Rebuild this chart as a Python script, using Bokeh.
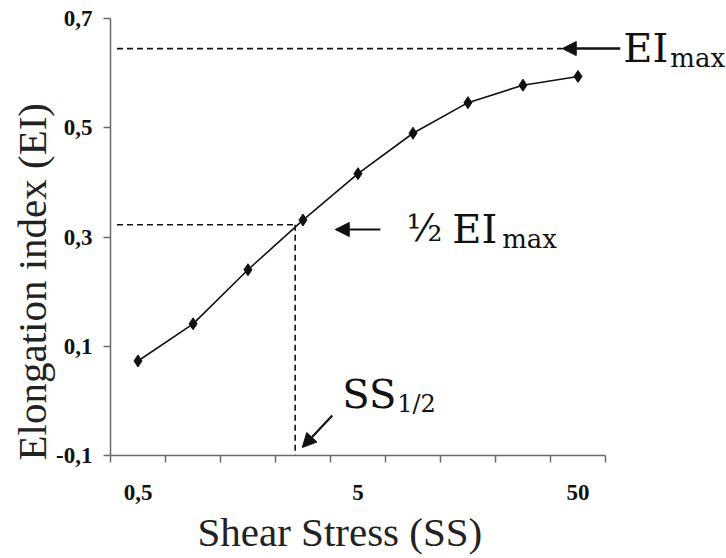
import math

from bokeh.embed import file_html
from bokeh.models import (Arrow, ColumnDataSource, CustomJSTickFormatter,
                          FixedTicker, Label, NormalHead, Range1d, Title)
from bokeh.plotting import figure
from bokeh.resources import INLINE

# Deformability curve: elongation index versus applied shear stress
shear_stress = [0.5, 0.89, 1.58, 2.81, 5.0, 8.89, 15.8, 28.1, 50.0]
elongation_index = [0.073, 0.141, 0.240, 0.331, 0.416, 0.490, 0.546, 0.578, 0.594]

x_tick_labels = [0.5, 5, 50]
y_tick_values = [-0.1, 0.1, 0.3, 0.5, 0.7]

EI_MAX = 0.645          # plateau of the curve
HALF_EI = EI_MAX / 2    # half-maximal elongation
SS_HALF = 2.59          # shear stress giving half-maximal elongation

# four shear-stress steps per decade; tick marks sit between the steps
STEP = 10 ** 0.25
step_edges = [shear_stress[0] / math.sqrt(STEP)] + [
    math.sqrt(a * b) for a, b in zip(shear_stress[:-1], shear_stress[1:])
] + [shear_stress[-1] * math.sqrt(STEP)]

# the axis covers the nine steps (495 px); the frame runs on to the right
# edge so the EImax annotation has room
PX_PER_DECADE = 220
x_lo = step_edges[0] * 0.9999
x_hi = x_lo * 10 ** (616 / PX_PER_DECADE)
y_lo, y_hi = -0.1001, 0.7001

SERIF = "Liberation Serif"
ANNOT = "DejaVu Serif"
INK = "#111111"
AXIS = "#6a6a6a"

p = figure(width=726, height=558, x_axis_type="log",
           x_range=Range1d(x_lo, x_hi), y_range=Range1d(y_lo, y_hi),
           output_backend="svg", toolbar_location=None,
           min_border_left=110, min_border_right=0,
           min_border_top=18, min_border_bottom=103)
p.outline_line_color = None
p.xgrid.visible = False
p.ygrid.visible = False
p.background_fill_color = "white"
p.border_fill_color = "white"

# x axis: labels at 0.5 / 5 / 50, tick marks at the step boundaries
xa = p.xaxis[0]
xa.bounds = (step_edges[0], step_edges[-1])
xa.ticker = FixedTicker(ticks=x_tick_labels, minor_ticks=step_edges)
xa.formatter = CustomJSTickFormatter(
    code="return (Math.round(tick * 10) / 10).toString().replace('.', ',')")
xa.major_tick_in = 0
xa.major_tick_out = 0
xa.minor_tick_in = 0
xa.minor_tick_out = 7
xa.axis_line_color = AXIS
xa.axis_line_width = 1.5
xa.minor_tick_line_color = AXIS
xa.minor_tick_line_width = 1.5
xa.major_label_standoff = 22
xa.major_label_text_font = SERIF
xa.major_label_text_font_style = "bold"
xa.major_label_text_font_size = "23px"
xa.major_label_text_color = INK

ya = p.yaxis[0]
ya.ticker = FixedTicker(ticks=y_tick_values, minor_ticks=[])
ya.formatter = CustomJSTickFormatter(
    code="return tick.toFixed(1).replace('.', ',')")
ya.major_tick_in = 0
ya.major_tick_out = 7
ya.minor_tick_out = 0
ya.axis_line_color = AXIS
ya.axis_line_width = 1.5
ya.major_tick_line_color = AXIS
ya.major_tick_line_width = 1.5
ya.major_label_standoff = 11
ya.major_label_text_font = SERIF
ya.major_label_text_font_style = "bold"
ya.major_label_text_font_size = "23px"
ya.major_label_text_color = INK

# axis titles
p.add_layout(Title(text="Shear Stress (SS)", align="left", offset=87,
                   standoff=8, text_font=SERIF, text_font_size="41px",
                   text_font_style="normal", text_color="#222222"), "below")
p.add_layout(Title(text="Elongation index (EI)", align="left", offset=-5,
                   standoff=-3, text_font=SERIF, text_font_size="41px",
                   text_font_style="normal", text_color="#222222"), "left")

# guide lines for EImax, half EImax and SS1/2
dash = dict(line_color=INK, line_width=1.6, line_dash="6 4")
p.segment(x0=[x_lo * 1.07], y0=[EI_MAX], x1=[42.4], y1=[EI_MAX], **dash)
p.segment(x0=[x_lo * 1.07], y0=[HALF_EI], x1=[SS_HALF], y1=[HALF_EI], **dash)
p.segment(x0=[SS_HALF], y0=[HALF_EI], x1=[SS_HALF], y1=[y_lo], **dash)

# measured curve
src = ColumnDataSource(dict(ss=shear_stress, ei=elongation_index))
p.line("ss", "ei", source=src, line_color=INK, line_width=1.6)
p.scatter("ss", "ei", source=src, marker="diamond", size=12,
          fill_color=INK, line_color=INK)


# arrows
def head():
    return NormalHead(size=14, fill_color=INK, line_color=INK)


p.add_layout(Arrow(end=head(), x_start=77.8, y_start=EI_MAX, x_end=42.4,
                   y_end=EI_MAX, line_color=INK, line_width=2.5))
p.add_layout(Arrow(end=head(), x_start=6.32, y_start=0.3137, x_end=3.94,
                   y_end=0.3137, line_color=INK, line_width=2.2))
p.add_layout(Arrow(end=head(), x_start=3.82, y_start=-0.0268, x_end=2.79,
                   y_end=-0.0854, line_color=INK, line_width=2.2))


def text(x, y, s, size, font=ANNOT, **kw):
    p.add_layout(Label(x=x, y=y, text=s, text_font=font,
                       text_font_size=size, text_color=INK,
                       text_baseline="alphabetic", **kw))


# EImax label
text(80.3, EI_MAX, "EI", "40px", y_offset=1)
text(80.3, EI_MAX, "max", "26px", x_offset=47, y_offset=-9)
# half EImax label
text(8.3, 0.3137, "\u00bd", "37px", y_offset=1)
text(13.4, 0.3137, "EI", "40px", y_offset=1)
text(13.4, 0.3137, "max", "26px", x_offset=50, y_offset=-9)
# SS1/2 label
text(4.24, -0.014, "SS", "40px", y_offset=14)
text(4.24, -0.014, "1/2", "24px", x_offset=55, y_offset=4)

open("out.html", "w").write(file_html(p, INLINE))
